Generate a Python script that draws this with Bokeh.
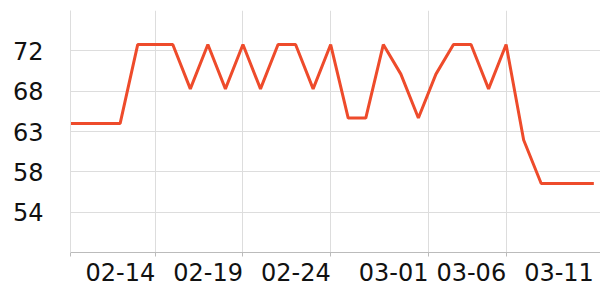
import pandas as pd
from bokeh.plotting import figure
from bokeh.models import FixedTicker, LinearAxis, Range1d
from bokeh.embed import file_html
from bokeh.resources import INLINE

# ---- data ----
dates = pd.date_range("2023-02-09", periods=31, freq="D")
temps = [63.9, 63.9, 63.9, 63.9, 72.7, 72.7, 72.7, 67.75, 72.7, 67.75,
         72.7, 67.75, 72.7, 72.7, 67.75, 72.7, 64.5, 64.5, 72.7, 69.4,
         64.5, 69.4, 72.7, 72.7, 67.75, 72.7, 62.05, 57.2, 57.2, 57.2, 57.2]
y_ticks = [54, 58.5, 63, 67.5, 72]
y_tick_labels = ["54", "58", "63", "68", "72"]
x_grid_dates = ["2023-02-14", "2023-02-19", "2023-02-24", "2023-03-01 13:40", "2023-03-06"]
x_label_dates = ["2023-02-14", "2023-02-19", "2023-02-24", "2023-03-01 13:40", "2023-03-06", "2023-03-11"]
x_tick_labels = ["02-14", "02-19", "02-24", "03-01", "03-06", "03-11"]

DAY = 86400000
def ms(d):
    return int(pd.Timestamp(d).value // 1_000_000)

x_start = ms(dates[0]) + int(0.17 * DAY)
x_end = ms(dates[0]) + int(30.38 * DAY)
label_shift = int(1.985 * DAY)

p = figure(width=600, height=300, x_axis_type="datetime",
           output_backend="svg", toolbar_location=None,
           x_range=Range1d(x_start, x_end), y_range=Range1d(49.5, 76.5),
           min_border_left=70, min_border_right=0, min_border_top=10,
           min_border_bottom=48)
p.outline_line_color = None
p.background_fill_color = "white"
p.border_fill_color = "white"

p.line(x=list(dates), y=temps, line_width=3, color="#EE4B2B")

grid_ticks = [x_start] + [ms(d) for d in x_grid_dates]

# main x axis: tick marks only
xa = p.xaxis[0]
xa.ticker = FixedTicker(ticks=grid_ticks)
xa.major_label_text_font_size = "0px"
xa.major_label_standoff = 0
xa.major_tick_out = 4
xa.major_tick_in = 0
xa.minor_tick_line_color = None
xa.axis_line_color = "#bbbbbb"
xa.major_tick_line_color = "#bbbbbb"
xa.major_label_overrides = {t: "" for t in grid_ticks}

# label axis (labels right-aligned to ticks)
lab_ticks = [ms(d) - label_shift for d in x_label_dates]
la = LinearAxis(ticker=FixedTicker(ticks=lab_ticks),
                major_label_overrides={t: s for t, s in zip(lab_ticks, x_tick_labels)})
la.axis_line_color = None
la.major_tick_line_color = None
la.minor_tick_line_color = None
la.major_tick_out = 0
la.major_tick_in = 0
la.major_label_standoff = 6
la.major_label_text_font = "DejaVu Sans"
la.major_label_text_font_size = "24px"
la.major_label_text_color = "#111111"
p.add_layout(la, "below")

p.xgrid[0].ticker = FixedTicker(ticks=grid_ticks)
p.xgrid[0].grid_line_color = "#dddddd"

ya = p.yaxis[0]
ya.ticker = FixedTicker(ticks=y_ticks)
ya.major_label_overrides = {t: s for t, s in zip(y_ticks, y_tick_labels)}
ya.major_tick_out = 0
ya.major_tick_in = 0
ya.minor_tick_line_color = None
ya.major_tick_line_color = None
ya.axis_line_color = "#dddddd"
ya.major_label_standoff = 27
ya.major_label_text_font = "DejaVu Sans"
ya.major_label_text_font_size = "24px"
ya.major_label_text_color = "#111111"
p.ygrid[0].grid_line_color = "#dddddd"

open("out.html", "w").write(file_html(p, INLINE))
